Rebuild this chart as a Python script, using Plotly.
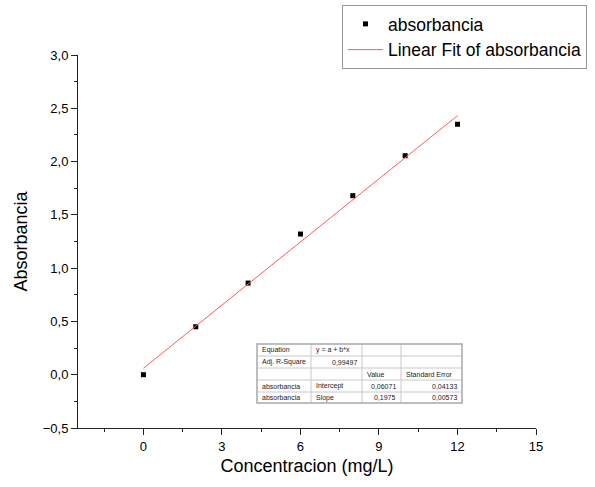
import plotly.graph_objects as go

conc = [0, 2, 4, 6, 8, 10, 12]
absorb = [0.0, 0.45, 0.86, 1.32, 1.68, 2.055, 2.35]
intercept = 0.06071
slope = 0.1975
fit_x = [0, 12]
fit_y = [intercept + slope * v for v in fit_x]

# fit-result table (rows of text) and per-cell alignment
tbl_rows = [
    ["Equation", "y = a + b*x", "", ""],
    ["Adj. R-Square", "0,99497", "", ""],
    ["", "", "Value", "Standard Error"],
    ["absorbancia", "Intercept", "0,06071", "0,04133"],
    ["absorbancia", "Slope", "0,1975", "0,00573"],
]
tbl_align = [
    ["left", "left", "left", "left"],
    ["left", "right", "left", "left"],
    ["left", "left", "left", "left"],
    ["left", "left", "right", "right"],
    ["left", "left", "right", "right"],
]

FONT = "Liberation Sans, Arial, sans-serif"

# plot-area geometry in pixels
W, H = 595, 487
ML, MR, MT, MB = 78, 59, 55, 59
PW, PH = W - ML - MR, H - MT - MB


def px(xp):
    return (xp - ML) / PW


def py(yp):
    return (H - MB - yp) / PH


fig = go.Figure()
fig.add_trace(go.Scatter(x=conc, y=absorb, mode="markers", name="absorbancia",
                         marker=dict(symbol="square", size=5, color="black")))
fig.add_trace(go.Scatter(x=fit_x, y=fit_y, mode="lines", name="Linear Fit of absorbancia",
                         line=dict(color="#ff5a5a", width=1)))

# table geometry (pixels)
col_edges = [257, 311, 362, 401, 462]
row_edges = [344, 356, 368, 380, 392, 403]
shapes = []
annotations = []
for xe in col_edges[1:-1]:
    shapes.append(dict(type="line", xref="paper", yref="paper",
                       x0=px(xe), x1=px(xe), y0=py(row_edges[0]), y1=py(row_edges[-1]),
                       line=dict(color="#c8c8c8", width=1)))
for ye in row_edges[1:-1]:
    shapes.append(dict(type="line", xref="paper", yref="paper",
                       x0=px(col_edges[0]), x1=px(col_edges[-1]), y0=py(ye), y1=py(ye),
                       line=dict(color="#c8c8c8", width=1)))
shapes.append(dict(type="rect", xref="paper", yref="paper",
                   x0=px(col_edges[0]), x1=px(col_edges[-1]),
                   y0=py(row_edges[-1]), y1=py(row_edges[0]),
                   line=dict(color="#a8a8a8", width=1.5), fillcolor="rgba(255,255,255,0)"))
for r, row in enumerate(tbl_rows):
    yc = (row_edges[r] + row_edges[r + 1]) / 2
    for c, txt in enumerate(row):
        if not txt:
            continue
        al = tbl_align[r][c]
        xa = col_edges[c] + 3 if al == "left" else col_edges[c + 1] - 3
        annotations.append(dict(text=txt, xref="paper", yref="paper",
                                x=px(xa), y=py(yc), xanchor=al, yanchor="middle",
                                showarrow=False,
                                font=dict(size=7, color="#222222", family=FONT)))

fig.update_layout(
    width=W, height=H,
    margin=dict(l=ML, r=MR, t=MT, b=MB, autoexpand=False),
    paper_bgcolor="white", plot_bgcolor="white",
    separators=",.",
    font=dict(family=FONT, size=13, color="black"),
    showlegend=True,
    shapes=shapes, annotations=annotations,
    legend=dict(x=px(342), y=py(5), xanchor="left", yanchor="top",
                bordercolor="#999999", borderwidth=1, bgcolor="white",
                font=dict(size=17.5, color="black"), tracegroupgap=0,
                itemwidth=35),
    xaxis=dict(range=[-2.5, 15], tick0=0, dtick=3, showgrid=False, zeroline=False,
               showline=True, linecolor="#222222", linewidth=1,
               ticks="outside", ticklen=6, tickcolor="#222222",
               minor=dict(dtick=1.5, tick0=0, ticks="outside", ticklen=3, tickcolor="#222222"),
               title=dict(text="Concentracion (mg/L)", font=dict(size=18), standoff=6),
               tickfont=dict(size=13)),
    yaxis=dict(range=[-0.5, 3.0], tick0=0, dtick=0.5, tickformat=".1f", showgrid=False,
               zeroline=False, showline=True, linecolor="#222222", linewidth=1,
               ticks="outside", ticklen=6, tickcolor="#222222",
               minor=dict(dtick=0.25, tick0=0, ticks="outside", ticklen=3, tickcolor="#222222"),
               title=dict(text="Absorbancia", font=dict(size=18), standoff=10),
               tickfont=dict(size=13)),
)

fig.write_html("out.html")
